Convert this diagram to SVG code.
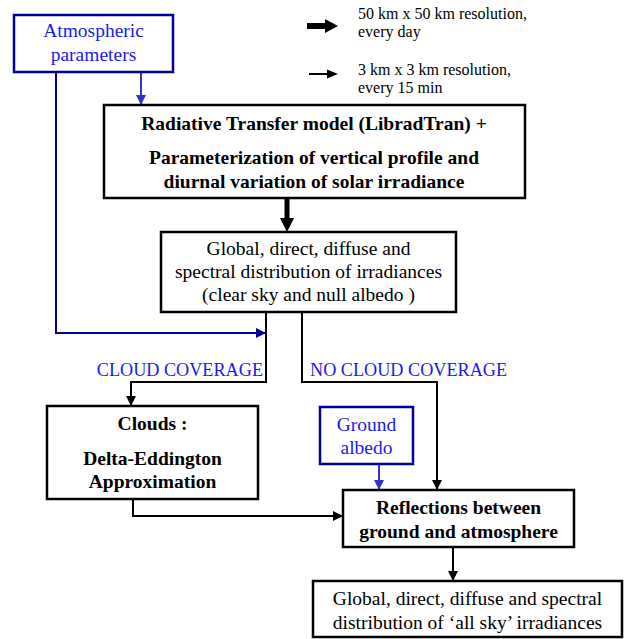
<svg xmlns="http://www.w3.org/2000/svg" width="624" height="639" viewBox="0 0 624 639">
<style>
  .box { fill: #ffffff; stroke: #000000; stroke-width: 2.5; }
  .bbox { fill: #ffffff; stroke: #000099; stroke-width: 2.5; }
  .t { font-family: "Liberation Serif", "Times New Roman", serif; text-anchor: middle; fill: #000000; }
  .b { font-weight: bold; font-size: 19.5px; }
  .r { font-size: 19.5px; }
  .blue { fill: #1a1aee; font-size: 19.5px; }
  .lbl { font-family: "Liberation Serif", "Times New Roman", serif; fill: #1a1aee; font-size: 18.2px; }
  .leg { font-family: "Liberation Serif", "Times New Roman", serif; fill: #000000; font-size: 16px; }
  .c { fill: none; stroke: #000000; stroke-width: 2; }
  .cn { fill: none; stroke: #000099; stroke-width: 2; }
  .cb { fill: none; stroke: #3333cc; stroke-width: 2; }
</style>
<defs>
  <marker id="ah" markerWidth="10" markerHeight="10" refX="10" refY="5" orient="auto" markerUnits="userSpaceOnUse">
    <path d="M0,0 L10,5 L0,10 Z" fill="#000000"/>
  </marker>
  <marker id="ahn" markerWidth="10" markerHeight="10" refX="10" refY="5" orient="auto" markerUnits="userSpaceOnUse">
    <path d="M0,0 L10,5 L0,10 Z" fill="#000099"/>
  </marker>
  <marker id="ahb" markerWidth="10" markerHeight="10" refX="10" refY="5" orient="auto" markerUnits="userSpaceOnUse">
    <path d="M0,0 L10,5 L0,10 Z" fill="#3333cc"/>
  </marker>
</defs>

<g id="legend">
  <path d="M307,23 L325,23 L325,19 L338,26 L325,33 L325,29 L307,29 Z" fill="#000000"/>
  <text class="leg" x="358" y="19">50 km x 50 km resolution,</text>
  <text class="leg" x="358" y="37">every day</text>
  <line x1="309" y1="74" x2="328" y2="74" stroke="#000000" stroke-width="2"/>
  <path d="M327,69.5 L338,74 L327,78.5 Z" fill="#000000"/>
  <text class="leg" x="358" y="75">3 km x 3 km resolution,</text>
  <text class="leg" x="358" y="93">every 15 min</text>
</g>

<g id="connectors">
  <line class="cb" x1="141" y1="72" x2="141" y2="105" marker-end="url(#ahb)"/>
  <polyline class="cn" points="56,72 56,333 266,333" marker-end="url(#ahn)"/>
  <path d="M284.5,198 L284.5,218 L280,218 L287,232 L294,218 L289.5,218 L289.5,198 Z" fill="#000000"/>
  <polyline class="c" points="266,312 266,382 131,382 131,406" marker-end="url(#ah)"/>
  <polyline class="c" points="302,312 302,382 437,382 437,490" marker-end="url(#ah)"/>
  <line class="cb" x1="379" y1="464" x2="379" y2="490" marker-end="url(#ahb)"/>
  <polyline class="c" points="133,499 133,516 343,516" marker-end="url(#ah)"/>
  <line class="c" x1="453" y1="547" x2="453" y2="581" marker-end="url(#ah)"/>
  <text class="lbl" x="263" y="376" text-anchor="end">CLOUD COVERAGE</text>
  <text class="lbl" x="310" y="376">NO CLOUD COVERAGE</text>
</g>

<g id="atmospheric">
  <rect class="bbox" x="14" y="15" width="159" height="57"/>
  <text class="t blue" x="93.5" y="37">Atmospheric</text>
  <text class="t blue" x="93.5" y="61">parameters</text>
</g>

<g id="radiative">
  <rect class="box" x="104" y="105" width="421" height="93"/>
  <text class="t b" x="314" y="130">Radiative Transfer model (LibradTran) +</text>
  <text class="t b" x="314" y="164">Parameterization of vertical profile and</text>
  <text class="t b" x="314" y="188">diurnal variation of solar irradiance</text>
</g>

<g id="clearsky">
  <rect class="box" x="161" y="232" width="295" height="80"/>
  <text class="t r" x="308.5" y="255">Global, direct, diffuse and</text>
  <text class="t r" x="308.5" y="278">spectral distribution of irradiances</text>
  <text class="t r" x="308.5" y="301">(clear sky and null albedo )</text>
</g>

<g id="clouds">
  <rect class="box" x="47" y="406" width="211" height="93"/>
  <text class="t b" x="152.5" y="430">Clouds :</text>
  <text class="t b" x="152.5" y="465">Delta-Eddington</text>
  <text class="t b" x="152.5" y="488">Approximation</text>
</g>

<g id="ground">
  <rect class="bbox" x="320" y="407" width="93" height="57"/>
  <text class="t blue" x="366.5" y="431">Ground</text>
  <text class="t blue" x="366.5" y="454">albedo</text>
</g>

<g id="reflections">
  <rect class="box" x="343" y="490" width="231" height="57"/>
  <text class="t b" x="458.5" y="514">Reflections between</text>
  <text class="t b" x="458.5" y="538">ground and atmosphere</text>
</g>

<g id="allsky">
  <rect class="box" x="313" y="581" width="309" height="56"/>
  <text class="t r" x="467.5" y="605">Global, direct, diffuse and spectral</text>
  <text class="t r" x="467.5" y="629">distribution of ‘all sky’ irradiances</text>
</g>
</svg>
